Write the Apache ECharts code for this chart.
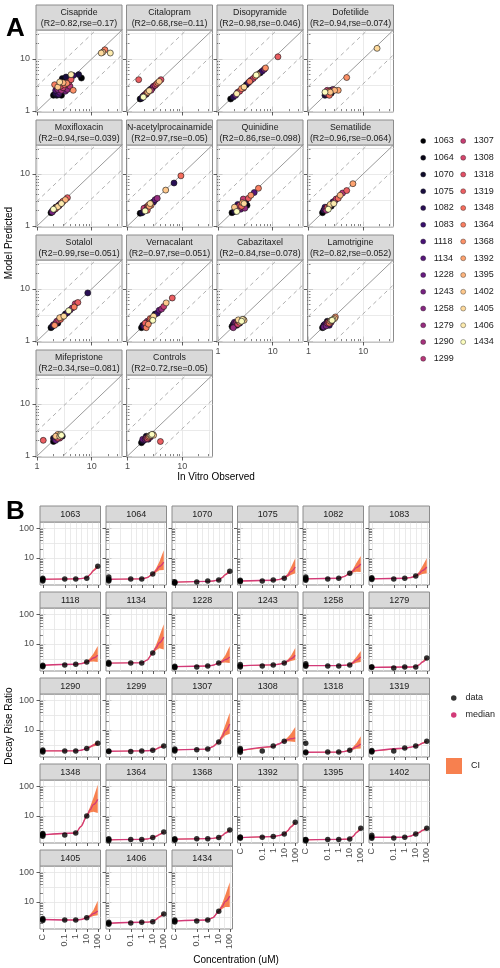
<!DOCTYPE html>
<html><head><meta charset="utf-8">
<script src="https://cdn.jsdelivr.net/npm/echarts@6/dist/echarts.min.js"></script>
<style>html,body{margin:0;padding:0;background:#fff}#c{width:500px;height:968px}</style>
</head><body><div id="c"></div>
<script>
// ---------------- DATA ----------------
const drugNames = ['Cisapride','Citalopram','Disopyramide','Dofetilide','Moxifloxacin','N-acetylprocainamide','Quinidine','Sematilide','Sotalol','Vernacalant','Cabazitaxel','Lamotrigine','Mifepristone','Controls'];
const drugStats = ['(R2=0.82,rse=0.17)','(R2=0.68,rse=0.11)','(R2=0.98,rse=0.046)','(R2=0.94,rse=0.074)','(R2=0.94,rse=0.039)','(R2=0.97,rse=0.05)','(R2=0.86,rse=0.098)','(R2=0.96,rse=0.064)','(R2=0.99,rse=0.051)','(R2=0.97,rse=0.051)','(R2=0.84,rse=0.078)','(R2=0.82,rse=0.052)','(R2=0.34,rse=0.081)','(R2=0.72,rse=0.05)'];
const cellLines = ['1063','1064','1070','1075','1082','1083','1118','1134','1228','1243','1258','1279','1290','1299','1307','1308','1318','1319','1348','1364','1368','1392','1395','1402','1405','1406','1434'];

// panel A points: [in vitro observed, model predicted, cell line index]
const ptsCisapride = [[2.0,2.0,0],[2.1,2.1,1],[2.3,2.0,2],[2.2,2.2,4],[2.5,2.1,6],[2.6,2.3,8],[2.4,2.6,10],[2.8,2.5,12],[3.0,2.8,14],[2.7,3.0,16],[3.2,3.2,18],[3.5,3.4,20],[3.0,3.5,22],[2.6,3.6,24],[3.8,3.6,15],[4.2,4.0,17],[4.6,4.8,5],[3.4,4.5,3],[2.9,4.2,1],[4.0,3.0,13],[3.3,2.4,9],[2.2,2.5,7],[2.4,2.9,23],[3.6,2.6,11],[4.6,2.5,20],[5.8,5.0,3],[6.5,4.3,0],[4.2,5.0,25],[2.1,3.2,19],[2.8,2.0,0],[15,13,24],[17.5,15,19],[22,13,25],[16,13.5,23]];
const ptsCitalopram = [[1.7,1.7,0],[1.8,1.75,3],[1.9,1.9,6],[2.0,2.0,9],[2.1,2.05,12],[2.2,2.2,15],[2.3,2.25,18],[2.4,2.4,21],[2.5,2.45,24],[2.6,2.6,2],[2.8,2.7,5],[2.9,2.85,8],[3.0,3.0,11],[3.2,3.1,14],[3.4,3.3,17],[3.6,3.5,20],[3.8,3.7,23],[4.1,4.0,16],[1.95,1.85,26],[2.2,2.1,1],[2.7,2.5,13],[2.35,2.3,22],[1.6,4.0,17]];
const ptsDisopyramide = [[1.7,1.7,0],[1.9,1.85,4],[2.1,2.0,8],[2.3,2.3,12],[2.5,2.4,16],[2.7,2.7,20],[3.0,2.9,24],[3.3,3.2,2],[3.6,3.5,6],[4.0,3.9,10],[4.4,4.2,14],[4.8,4.6,18],[5.3,5.0,22],[5.9,5.4,1],[6.4,5.8,5],[5.0,4.9,26],[7.0,6.3,9],[2.2,2.15,25],[2.9,2.75,15],[3.8,3.7,19],[12.5,11,17],[7.4,6.7,20]];
const ptsDofetilide = [[2.0,2.0,3],[2.1,2.2,7],[2.2,2.1,11],[2.3,2.3,15],[2.4,2.4,19],[2.5,2.3,23],[2.6,2.5,2],[2.7,2.4,6],[2.8,2.6,10],[2.2,2.5,14],[2.4,2.0,18],[3.0,2.5,22],[2.0,2.3,26],[2.6,2.2,1],[3.5,2.5,21],[5.0,4.4,20],[18,16,24]];
const ptsMoxifloxacin = [[1.8,1.8,0],[1.9,1.95,4],[2.0,2.0,8],[2.1,2.1,12],[2.2,2.15,16],[2.3,2.3,20],[2.4,2.35,24],[2.5,2.5,2],[2.6,2.55,6],[2.7,2.7,10],[2.9,2.85,14],[3.0,3.0,18],[3.3,3.2,22],[2.0,2.1,26],[2.2,2.3,1],[2.5,2.4,13],[3.6,3.5,17],[2.8,2.7,25],[1.9,1.85,9]];
const ptsNAPA = [[1.7,1.75,0],[1.85,1.8,3],[2.0,2.0,6],[2.1,2.15,9],[2.2,2.3,12],[2.3,2.2,15],[2.4,2.5,18],[2.5,2.4,21],[2.6,2.7,24],[2.8,2.8,2],[3.0,2.9,5],[3.2,3.2,8],[3.5,3.4,11],[2.0,2.2,14],[2.3,2.0,17],[2.7,2.5,20],[5.0,4.9,23],[7.1,6.7,4],[9.5,9.2,18],[2.1,1.95,26]];
const ptsQuinidine = [[1.8,1.8,0],[2.0,1.9,3],[2.1,2.1,6],[2.2,2.3,9],[2.4,2.2,12],[2.5,2.5,15],[2.7,2.4,18],[2.8,2.8,21],[3.0,2.7,24],[3.2,3.0,2],[2.3,2.6,5],[2.6,2.1,8],[3.1,2.2,11],[2.9,3.3,14],[3.6,3.4,17],[4.0,3.9,20],[2.0,2.3,23],[2.2,1.9,26],[4.6,4.4,7],[5.5,5.3,19],[3.4,2.5,1]];
const ptsSematilide = [[1.8,1.8,0],[1.9,2.0,4],[2.0,2.1,8],[2.1,2.0,12],[2.2,2.3,16],[2.4,2.4,20],[2.5,2.6,24],[2.7,2.6,2],[2.8,2.9,6],[3.0,3.0,10],[3.2,3.3,14],[3.5,3.4,18],[3.8,3.9,22],[2.3,2.1,26],[2.6,2.4,1],[4.2,4.3,13],[5.0,4.8,17],[2.0,2.3,5],[6.5,6.5,21],[2.9,2.7,25]];
const ptsSotalol = [[1.8,1.8,0],[1.9,1.9,3],[2.0,2.05,6],[2.2,2.2,9],[2.3,2.4,12],[2.5,2.5,15],[2.7,2.6,18],[2.9,2.9,21],[3.1,3.0,24],[3.3,3.3,2],[3.6,3.5,5],[4.0,3.9,8],[4.4,4.3,11],[5.0,5.2,14],[5.6,5.5,17],[2.1,2.0,20],[2.6,2.8,23],[3.8,3.8,26],[8.5,8.4,4],[2.4,2.2,1],[4.8,4.5,19]];
const ptsVernacalant = [[1.8,1.8,0],[1.9,2.0,3],[2.0,1.9,6],[2.2,2.2,9],[2.3,2.4,12],[2.5,2.4,15],[2.6,2.7,18],[2.8,2.7,21],[3.0,3.0,24],[3.2,3.3,2],[3.5,3.4,5],[3.8,3.9,8],[4.2,4.1,11],[4.6,4.6,14],[2.1,2.2,17],[2.4,2.1,20],[5.1,5.4,23],[6.6,6.7,17],[2.9,2.5,26],[2.2,1.8,19]];
const ptsCabazitaxel = [[1.8,1.9,0],[1.9,2.1,3],[2.0,2.0,6],[2.1,2.2,9],[2.2,2.3,12],[2.3,2.1,15],[2.4,2.4,18],[2.5,2.3,21],[2.6,2.5,24],[2.7,2.4,26],[2.8,2.6,25],[3.0,2.5,23],[2.2,2.0,2],[2.5,2.2,5],[2.0,2.3,8],[2.9,2.6,22],[1.9,1.8,11],[2.35,2.55,24]];
const ptsLamotrigine = [[1.8,1.8,0],[1.9,2.0,3],[2.0,2.1,6],[2.1,1.95,9],[2.2,2.2,12],[2.3,2.3,15],[2.4,2.2,18],[2.5,2.4,21],[2.6,2.5,24],[2.7,2.5,26],[2.8,2.6,25],[3.0,2.7,23],[2.2,2.4,2],[2.4,2.0,5],[1.9,1.85,8],[2.6,2.3,11],[3.1,2.9,20]];
const ptsMifepristone = [[2.0,1.9,0],[2.1,2.1,4],[2.2,2.0,8],[2.3,2.3,12],[2.4,2.2,16],[2.5,2.5,20],[2.6,2.4,24],[2.7,2.6,25],[2.8,2.5,26],[2.2,2.4,23],[2.4,2.6,22],[2.0,2.2,3],[2.6,2.2,14],[1.3,2.0,17],[2.9,2.4,2]];
const ptsControls = [[1.8,1.8,0],[1.9,1.95,3],[2.0,2.0,6],[2.1,2.1,9],[2.2,2.2,12],[2.3,2.15,15],[2.4,2.3,18],[2.5,2.4,21],[2.6,2.5,24],[2.7,2.5,25],[2.8,2.6,26],[3.0,2.5,23],[2.2,2.4,2],[2.4,2.1,5],[1.9,2.1,8],[2.6,2.3,11],[4.0,1.9,17],[2.9,2.6,22]];
const drugPoints = [ptsCisapride,ptsCitalopram,ptsDisopyramide,ptsDofetilide,ptsMoxifloxacin,ptsNAPA,ptsQuinidine,ptsSematilide,ptsSotalol,ptsVernacalant,ptsCabazitaxel,ptsLamotrigine,ptsMifepristone,ptsControls];
const foldLines = [1/3, 1, 3];
const aTickLabels = [1, 10];

// panel B
const concTickValues = [0.001, 0.1, 1, 10, 100];
const concTickLabels = ['C', '0.1', '1', '10', '100'];
const ctrlConc = 0.001;
const ctrlVals = [[1.7,1.85,2.0,2.1],[1.7,1.85,2.0,2.3],[1.45,1.5,1.6],[1.6,1.7,1.8],[1.8,1.95,2.1,2.3],[1.9,2.05,2.2],[1.75,1.85,1.95],[2.1,2.25,2.4],[1.6,1.7,1.8],[1.7,1.85,2.05],[1.8,1.95,2.2],[1.65,1.75],[1.85,2.0,2.15],[1.9,2.0],[2.0,2.15,2.3],[1.8,2.0,2.2,2.4],[1.75,1.85,3.6],[1.85,1.95,2.05],[2.1,2.3,2.45,2.6],[1.5,1.6,1.75],[1.55,1.65,1.75],[1.8,1.9,2.0],[1.5,1.57,1.65],[1.8,2.0,2.25],[2.4,2.6,2.8],[1.8,1.95,2.1],[2.15,2.3,2.5]];
const doseConc = [0.1, 1, 10, 100];
const doseVals = [[2.0,2.0,2.1,5.3],[2.0,2.0,2.9,null],[1.57,1.7,1.84,3.6],[1.7,1.84,2.1,null],[2.0,2.1,3.1,null],[2.0,2.1,2.5,null],[2.0,2.1,2.5,null],[2.3,2.3,5.0,null],[1.7,1.84,2.3,null],[1.84,2.0,2.3,null],[1.84,1.84,2.0,null],[1.57,1.7,1.7,3.4],[2.0,2.0,2.4,3.6],[1.9,2.0,2.1,2.9],[2.2,2.3,4.0,null],[2.0,2.9,4.2,null],[1.83,1.83,2.1,null],[2.0,2.5,2.9,4.2],[2.3,2.7,10,null],[1.65,1.65,1.9,2.9],[1.75,1.75,1.9,3.4],[1.95,2.05,2.5,6.2],[1.65,1.65,1.7,3.9],[1.85,1.95,2.5,3.9],[2.5,2.5,3.0,null],[2.0,2.1,2.2,4.0],[2.3,2.5,4.9,null]];
const curveConc = [0.001, 1, 3, 10, 20, 40, 100];
const medianVals = [[1.95,2.0,2.05,2.2,2.8,3.8,5.3],[1.95,2.0,2.2,2.9,3.8,5.2,7.3],[1.57,1.65,1.7,1.84,2.2,2.8,3.6],[1.7,1.8,1.9,2.15,2.6,3.5,5.0],[2.0,2.1,2.4,3.0,3.7,4.8,6.3],[2.0,2.1,2.2,2.5,3.0,3.8,5.0],[1.95,2.1,2.2,2.5,2.9,3.4,4.2],[2.3,2.35,2.9,5.0,7.5,11,17],[1.75,1.84,1.95,2.3,2.6,3.0,3.7],[1.85,2.0,2.1,2.3,2.7,3.2,4.2],[1.9,1.9,1.95,2.0,2.4,2.9,3.7],[1.65,1.7,1.7,1.75,2.0,2.5,3.4],[2.0,2.0,2.1,2.4,2.7,3.1,3.6],[1.95,2.0,2.02,2.1,2.3,2.6,2.9],[2.15,2.3,2.8,4.0,6.0,9.5,16],[2.05,2.8,3.4,4.2,4.7,5.1,5.5],[1.8,1.83,1.9,2.1,2.4,2.8,3.4],[1.95,2.45,2.65,2.9,3.2,3.6,4.2],[2.35,2.7,4.5,10,16,24,36],[1.6,1.65,1.7,1.9,2.1,2.4,2.9],[1.68,1.75,1.78,1.9,2.2,2.7,3.4],[1.9,2.05,2.2,2.5,3.2,4.3,6.2],[1.6,1.65,1.67,1.7,2.1,2.8,3.9],[1.95,1.95,2.1,2.5,2.8,3.3,3.9],[2.6,2.5,2.6,3.0,3.4,4.1,5.0],[1.95,2.1,2.12,2.2,2.6,3.2,4.0],[2.3,2.5,3.0,4.9,7.0,10.5,15.7]];
const ciLow = [[1.9,1.95,2.0,2.15,2.65,3.5,4.9],[1.9,1.95,2.1,2.7,3.3,3.9,4.0],[1.52,1.6,1.65,1.78,2.1,2.6,3.3],[1.65,1.75,1.85,2.05,2.3,2.7,3.1],[1.95,2.05,2.3,2.85,3.3,3.5,3.4],[1.95,2.05,2.12,2.4,2.6,2.9,3.1],[1.9,2.05,2.12,2.38,2.55,2.6,2.5],[2.25,2.3,2.75,4.6,6.2,7.2,6.5],[1.7,1.8,1.88,2.2,2.35,2.4,2.3],[1.8,1.95,2.03,2.2,2.45,2.7,2.9],[1.85,1.85,1.9,1.93,2.15,2.35,2.5],[1.6,1.65,1.65,1.7,1.9,2.35,3.1],[1.95,1.95,2.05,2.3,2.55,2.8,3.1],[1.9,1.95,1.97,2.05,2.2,2.45,2.7],[2.1,2.25,2.65,3.7,5.0,6.5,7.5],[2.0,2.7,3.25,3.95,4.2,4.1,4.0],[1.75,1.78,1.83,2.0,2.2,2.35,2.4],[1.9,2.38,2.58,2.8,3.05,3.4,3.9],[2.3,2.6,4.2,9.2,13,14,12.5],[1.55,1.6,1.65,1.83,2.0,2.25,2.7],[1.63,1.7,1.73,1.83,2.1,2.55,3.15],[1.85,2.0,2.13,2.4,3.0,4.0,5.7],[1.55,1.6,1.62,1.65,2.0,2.6,3.6],[1.9,1.9,2.03,2.4,2.65,3.1,3.6],[2.55,2.45,2.52,2.85,3.1,3.4,3.6],[1.9,2.05,2.06,2.13,2.45,3.0,3.7],[2.25,2.45,2.85,4.5,5.8,6.8,6.8]];
const ciHigh = [[2.0,2.05,2.1,2.25,2.95,4.1,5.7],[2.0,2.05,2.3,3.1,4.5,7.5,18],[1.62,1.7,1.75,1.9,2.3,3.0,3.9],[1.75,1.85,1.95,2.25,3.0,4.8,9.9],[2.05,2.15,2.5,3.2,4.3,6.8,11.6],[2.05,2.15,2.28,2.6,3.5,5.3,9.9],[2.0,2.15,2.28,2.65,3.4,4.7,8.5],[2.35,2.4,3.05,5.5,9.5,18,46],[1.8,1.88,2.02,2.4,3.0,4.2,8.5],[1.9,2.05,2.17,2.42,3.0,4.0,7.3],[1.95,1.95,2.0,2.1,2.7,3.7,5.8],[1.7,1.75,1.75,1.8,2.1,2.65,3.7],[2.05,2.05,2.15,2.5,2.9,3.4,4.2],[2.0,2.05,2.07,2.15,2.4,2.75,3.2],[2.2,2.35,2.95,4.3,7.5,15,38],[2.1,2.9,3.55,4.5,5.6,7.5,12.5],[1.85,1.88,1.97,2.22,2.7,3.6,6.2],[2.0,2.52,2.72,3.0,3.35,3.8,4.5],[2.4,2.8,4.8,11,20,40,110],[1.65,1.7,1.75,1.97,2.2,2.55,3.1],[1.73,1.8,1.83,1.97,2.3,2.85,3.65],[1.95,2.1,2.27,2.6,3.4,4.6,6.7],[1.65,1.7,1.72,1.75,2.2,3.0,4.2],[2.0,2.0,2.17,2.6,2.95,3.5,4.2],[2.65,2.55,2.68,3.15,3.8,5.3,11],[2.0,2.15,2.18,2.27,2.75,3.4,4.3],[2.35,2.55,3.15,5.3,8.8,17,46]];
const bYTickLabels = [10, 100];

// ---------------- STYLE / LAYOUT ----------------
const FONT = '"Liberation Sans", Arial, Helvetica, sans-serif';
const A_MIN = 0.957, A_MAX = 36;
const B_XMIN = 0.000562, B_XMAX = 177.8, B_YMIN = 1.25, B_YMAX = 160;
const aCols = [36, 126.5, 217, 307.5], aW = 86;
const aRows = [30, 145, 260, 375], aH = 82;
const bCols = [40, 106, 172, 237.5, 303, 369], bW = 60.5;
const bRows = [522, 608, 694, 780, 866], bH = 63;
const aGridVals = [1, 3.1623, 10, 31.623];
const aMinorTicks = [2,3,4,5,6,7,8,9,20,30];
const bXGrid = [0.001,0.01,0.1,0.31623,1,3.1623,10,31.623,100];
const bYGrid = [3.1623,10,31.623,100];
const bYMinor = [2,3,4,5,6,7,8,9,20,30,40,50,60,70,80,90];
const MED_COLOR = '#d23a78';
const CI_COLOR = '#f7804f';
const MAGMA_KEYS = ['#000004','#140e36','#3b0f70','#641a80','#8c2981','#b73779','#de4968','#f7705c','#fe9f6d','#fecf92','#fcfdbf'];
function hex2rgb(h){return [1,3,5].map(i=>parseInt(h.substr(i,2),16));}
function magma(t){const k=MAGMA_KEYS;const p=t*(k.length-1);const i=Math.min(Math.floor(p),k.length-2);const f=p-i;const a=hex2rgb(k[i]),b=hex2rgb(k[i+1]);return 'rgb('+a.map((v,j)=>Math.round(v+(b[j]-v)*f)).join(',')+')';}
const palette = cellLines.map((c,i)=>magma(i/(cellLines.length-1)));

function fmtNum(v){return String(+(+v).toPrecision(3));}
function concFmt(v){const lv=Math.log10(v);for(let i=0;i<concTickValues.length;i++){if(Math.abs(lv-Math.log10(concTickValues[i]))<0.05)return concTickLabels[i];}return '';}

const grid=[], xAxis=[], yAxis=[], series=[], graphic=[];

function addGrid(l,t,w,h){grid.push({left:l,top:t,width:w,height:h,show:true,borderColor:'#8c8c8c',borderWidth:1,backgroundColor:'#ffffff',containLabel:false,outerBoundsMode:'none'});return grid.length-1;}

function addAxes(list,g,isX,min,max,c){
  const base={type:'log',logBase:10,gridIndex:g,min:min,max:max,position:isX?'bottom':'left'};
  const main=list.length;
  list.push(Object.assign({},base,{
    z:1,
    axisLine:{show:false},
    axisTick:{show:false,customValues:c.grid},
    splitLine:{show:true,lineStyle:{color:'#e4e4e4',width:0.8}},
    minorTick:{show:false},minorSplitLine:{show:false},
    axisLabel:{show:!!c.showLabel,customValues:c.labels,formatter:c.fmt,fontSize:9,color:'#4d4d4d',fontFamily:FONT,margin:c.margin,rotate:c.rotate||0}
  }));
  const plain={axisLine:{show:false},axisLabel:{show:false},splitLine:{show:false},silent:true};
  if(c.outTicks) list.push(Object.assign({},base,plain,{axisTick:{show:true,customValues:c.outTicks,length:3,lineStyle:{color:'#333',width:0.8}}}));
  if(c.longIn) list.push(Object.assign({},base,plain,{offset:3.5,axisTick:{show:true,inside:true,customValues:c.longIn,length:9,lineStyle:{color:'#333',width:0.8}}}));
  if(c.shortIn) list.push(Object.assign({},base,plain,{axisTick:{show:true,inside:true,customValues:c.shortIn,length:3,lineStyle:{color:'#333',width:0.6}}}));
  return main;
}

function strip(l,t,w,h,text,fs,lh){
  graphic.push({type:'rect',silent:true,shape:{x:l,y:t-h,width:w,height:h},style:{fill:'#d9d9d9',stroke:'#8c8c8c',lineWidth:1},z:10});
  graphic.push({type:'text',silent:true,x:l+w/2,y:t-h/2+0.5,style:{text:text,align:'center',verticalAlign:'middle',fontSize:fs,fontFamily:FONT,fill:'#1a1a1a',lineHeight:lh},z:11});
}

// ---------- Panel A ----------
const usedNames = new Set();
drugNames.forEach((name,f)=>{
  const col=f%4,row=Math.floor(f/4);
  const l=aCols[col],t=aRows[row];
  const g=addGrid(l,t,aW,aH);
  const showX=(row===3)||(row===2&&col>=2);
  const xi=addAxes(xAxis,g,true,A_MIN,A_MAX,{grid:aGridVals,labels:aTickLabels,fmt:fmtNum,showLabel:showX,margin:5,longIn:aTickLabels,shortIn:aMinorTicks});
  const yi=addAxes(yAxis,g,false,A_MIN,A_MAX,{grid:aGridVals,labels:aTickLabels,fmt:fmtNum,showLabel:col===0,margin:6,longIn:aTickLabels,shortIn:aMinorTicks});
  foldLines.forEach(r=>{
    series.push({type:'line',xAxisIndex:xi,yAxisIndex:yi,data:[[0.1,0.1*r],[1000,1000*r]],symbol:'none',silent:true,clip:true,z:2,
      lineStyle:{color:r===1?'#9a9a9a':'#a6a6a6',width:r===1?1:0.9,type:r===1?'solid':[4,3.5]}});
  });
  cellLines.forEach((cell,c)=>{
    const d=drugPoints[f].filter(p=>p[2]===c).map(p=>[p[0],p[1]]);
    if(!d.length) return;
    usedNames.add(cell);
    series.push({type:'scatter',name:cell,xAxisIndex:xi,yAxisIndex:yi,data:d,symbol:'circle',symbolSize:6,z:5,
      itemStyle:{color:palette[c],borderColor:'#111',borderWidth:0.6,opacity:1},emphasis:{disabled:true}});
  });
  strip(l,t,aW,25,name+'\n'+drugStats[f],8.8,11);
});
cellLines.forEach((cell,c)=>{ if(!usedNames.has(cell)) series.push({type:'scatter',name:cell,xAxisIndex:0,yAxisIndex:0,data:[],itemStyle:{color:palette[c],borderColor:'#111',borderWidth:0.6}}); });

// ---------- Panel B ----------
function makeBand(k){
  return function(params,api){
    if(params.dataIndex!==0) return null;
    const pts=[];
    for(let i=0;i<curveConc.length;i++) pts.push(api.coord([curveConc[i],ciHigh[k][i]]));
    for(let i=curveConc.length-1;i>=0;i--) pts.push(api.coord([curveConc[i],ciLow[k][i]]));
    return {type:'polygon',shape:{points:pts},style:{fill:CI_COLOR,stroke:null}};
  };
}
cellLines.forEach((cell,k)=>{
  const col=k%6,row=Math.floor(k/6);
  const l=bCols[col],t=bRows[row];
  const g=addGrid(l,t,bW,bH);
  const showX=(row===4)||(row===3&&col>=3);
  const xi=addAxes(xAxis,g,true,B_XMIN,B_XMAX,{grid:bXGrid,labels:concTickValues,fmt:concFmt,showLabel:showX,margin:5,rotate:90,outTicks:concTickValues});
  const yi=addAxes(yAxis,g,false,B_YMIN,B_YMAX,{grid:bYGrid,labels:bYTickLabels,fmt:fmtNum,showLabel:col===0,margin:6,longIn:bYTickLabels,shortIn:bYMinor});
  series.push({type:'custom',name:'CI',xAxisIndex:xi,yAxisIndex:yi,clip:true,z:2,silent:true,
    itemStyle:{color:CI_COLOR},encode:{x:0,y:1},
    data:curveConc.map((x,i)=>[x,medianVals[k][i]]),renderItem:makeBand(k)});
  series.push({type:'line',name:'median',xAxisIndex:xi,yAxisIndex:yi,data:curveConc.map((x,i)=>[x,medianVals[k][i]]),
    smooth:0.35,smoothMonotone:'x',symbol:'none',clip:true,z:3,silent:true,
    lineStyle:{color:MED_COLOR,width:1.3},itemStyle:{color:MED_COLOR}});
  const pts=ctrlVals[k].map(v=>[ctrlConc,v]);
  doseConc.forEach((x,i)=>{ if(doseVals[k][i]!=null) pts.push([x,doseVals[k][i]]); });
  series.push({type:'scatter',name:'data',xAxisIndex:xi,yAxisIndex:yi,data:pts,symbol:'circle',symbolSize:5.5,z:4,silent:true,
    itemStyle:{color:'#000'}});
  strip(l,t,bW,16,cell,9,11);
});

// ---------- text ----------
graphic.push({type:'text',silent:true,x:6,y:29,style:{text:'A',fontSize:26,fontWeight:'bold',fontFamily:FONT,fill:'#000',verticalAlign:'middle'}});
graphic.push({type:'text',silent:true,x:6,y:512,style:{text:'B',fontSize:26,fontWeight:'bold',fontFamily:FONT,fill:'#000',verticalAlign:'middle'}});
graphic.push({type:'text',silent:true,x:9,y:243,rotation:Math.PI/2,style:{text:'Model Predicted',fontSize:10,fontFamily:FONT,fill:'#000',align:'center',verticalAlign:'middle'}});
graphic.push({type:'text',silent:true,x:216,y:477,style:{text:'In Vitro Observed',fontSize:10,fontFamily:FONT,fill:'#000',align:'center',verticalAlign:'middle'}});
graphic.push({type:'text',silent:true,x:9,y:726,rotation:Math.PI/2,style:{text:'Decay Rise Ratio',fontSize:10,fontFamily:FONT,fill:'#000',align:'center',verticalAlign:'middle'}});
graphic.push({type:'text',silent:true,x:236,y:960,style:{text:'Concentration (uM)',fontSize:10,fontFamily:FONT,fill:'#000',align:'center',verticalAlign:'middle'}});

const legendText={fontSize:9,color:'#1a1a1a',fontFamily:FONT,lineHeight:12};
const cellLegendStyle={borderWidth:0.4,borderColor:'#222'};
const option={
  animation:false,
  backgroundColor:'#ffffff',
  grid, xAxis, yAxis, series, graphic,
  legend:[
    {orient:'vertical',left:420.5,top:135,itemWidth:5,itemHeight:5,itemGap:4.75,icon:'circle',selectedMode:false,padding:0,itemStyle:cellLegendStyle,data:cellLines.slice(0,14),textStyle:Object.assign({padding:[0,0,0,3]},legendText)},
    {orient:'vertical',left:460.5,top:135,itemWidth:5,itemHeight:5,itemGap:4.75,icon:'circle',selectedMode:false,padding:0,itemStyle:cellLegendStyle,data:cellLines.slice(14),textStyle:Object.assign({padding:[0,0,0,3]},legendText)},
    {orient:'vertical',left:451,top:692,itemWidth:5.5,itemHeight:5.5,itemGap:5,selectedMode:false,padding:0,data:[{name:'data',icon:'circle'},{name:'median',icon:'circle'}],textStyle:Object.assign({padding:[0,0,0,4]},legendText)},
    {orient:'vertical',left:446,top:758,itemWidth:16,itemHeight:16,selectedMode:false,padding:0,data:[{name:'CI',icon:'rect',itemStyle:{color:CI_COLOR}}],textStyle:Object.assign({padding:[0,0,0,4]},legendText)}
  ]
};
const chart=echarts.init(document.getElementById('c'),null,{renderer:'canvas',width:500,height:968});
chart.setOption(option);
</script></body></html>
